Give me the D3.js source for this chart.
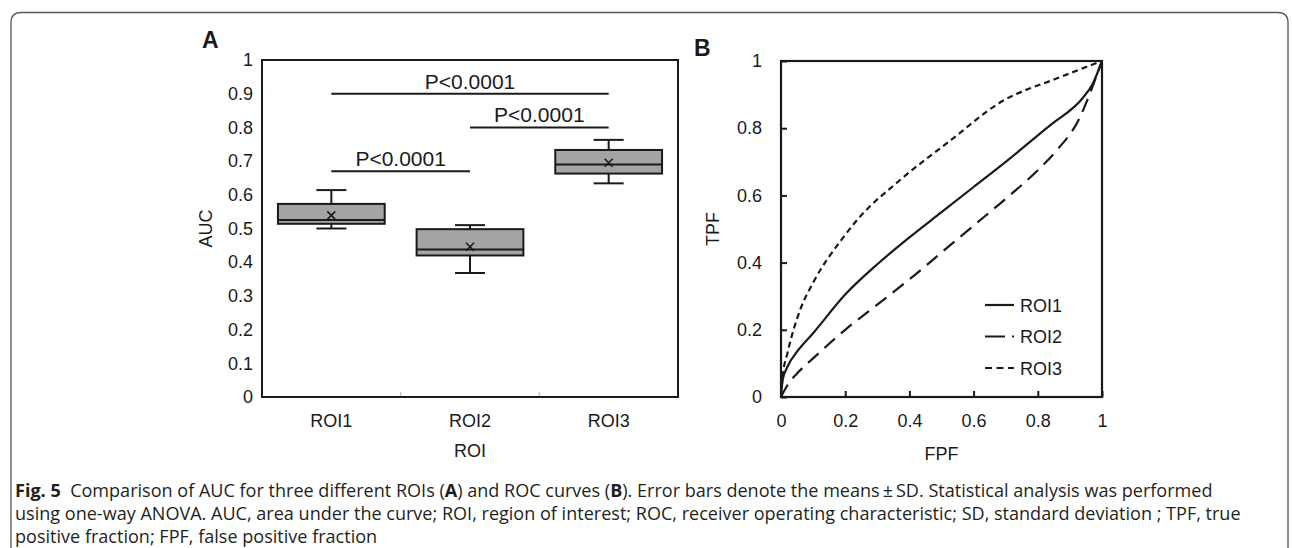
<!DOCTYPE html>
<html>
<head>
<meta charset="utf-8">
<script src="https://cdn.jsdelivr.net/npm/d3@7"></script>
<style>
  body { margin: 0; background: #fff; }
  text { font-family: "Liberation Sans", Arial, sans-serif; fill: #1a1a1a; }
  .cap { font-family: "Open Sans", "Noto Sans", sans-serif; fill: #231f20; }
</style>
</head>
<body>
<div id="graph"></div>
<script>
// panel A: AUC box plots
const categories = ["ROI1", "ROI2", "ROI3"];
const whiskerLow  = [0.500, 0.368, 0.634];
const q1          = [0.514, 0.420, 0.663];
const medians     = [0.525, 0.438, 0.690];
const q3          = [0.573, 0.498, 0.733];
const whiskerHigh = [0.614, 0.510, 0.763];
const means       = [0.539, 0.446, 0.695];
const aucTicks = [0, 0.1, 0.2, 0.3, 0.4, 0.5, 0.6, 0.7, 0.8, 0.9, 1];

// significance bars: pair of categories, height, label
const sigFrom  = [0, 1, 0];
const sigTo    = [2, 2, 1];
const sigLevel = [0.9, 0.8, 0.67];
const sigLabel = ["P<0.0001", "P<0.0001", "P<0.0001"];

// panel B: ROC curves
const rocNames = ["ROI1", "ROI2", "ROI3"];
const fpfROI1 = [0, 0.005, 0.02, 0.05, 0.1, 0.2, 0.3, 0.4, 0.5, 0.6, 0.7, 0.84, 0.94, 0.97, 1];
const tpfROI1 = [0, 0.05, 0.09, 0.135, 0.19, 0.305, 0.395, 0.475, 0.55, 0.625, 0.7, 0.81, 0.89, 0.93, 1];
const fpfROI2 = [0, 0.02, 0.05, 0.1, 0.2, 0.3, 0.4, 0.5, 0.6, 0.7, 0.8, 0.86, 0.93, 0.965, 1];
const tpfROI2 = [0, 0.035, 0.07, 0.115, 0.2, 0.275, 0.35, 0.43, 0.51, 0.59, 0.675, 0.735, 0.83, 0.91, 1];
const fpfROI3 = [0, 0.005, 0.02, 0.06, 0.1, 0.19, 0.24, 0.37, 0.53, 0.68, 0.87, 1];
const tpfROI3 = [0, 0.06, 0.13, 0.26, 0.34, 0.47, 0.53, 0.645, 0.765, 0.875, 0.952, 1];
const rocTicks = [0, 0.2, 0.4, 0.6, 0.8, 1];

const W = 1292, H = 548;
const ink = "#1a1a1a";

let svg = d3.select("#graph").append("svg")
  .attr("width", W).attr("height", H)
  .style("display", "block");

// outer figure frame (rounded at top, open at bottom)
let r = 10, fl = 11, fr = 1288, ft = 12.5;
svg.append("path")
  .attr("d", `M${fl},${H} V${ft + r} Q${fl},${ft} ${fl + r},${ft} H${fr - r} Q${fr},${ft} ${fr},${ft + r} V${H}`)
  .attr("fill", "none").attr("stroke", "#555").attr("stroke-width", 1.3);

// ---------- panel A ----------
let ax = { l: 262, r: 678, t: 60, b: 397 };
let x = d3.scaleBand().domain(categories).range([ax.l, ax.r]);
let y = d3.scaleLinear().domain([0, 1]).range([ax.b, ax.t]);

let gA = svg.append("g");

// y tick labels (no tick marks)
let yAxis = d3.axisLeft(y).tickValues(aucTicks).tickSize(0).tickPadding(9).tickFormat(d3.format("~g"));
gA.append("g").attr("transform", `translate(${ax.l},0)`).call(yAxis)
  .call(g => g.select(".domain").remove())
  .selectAll("text").attr("font-size", 18).attr("font-family", "Liberation Sans").attr("fill", ink);

// x category labels + faint separators
let xAxis = d3.axisBottom(x).tickSize(0).tickPadding(17);
gA.append("g").attr("transform", `translate(0,${ax.b})`).call(xAxis)
  .call(g => g.select(".domain").remove())
  .selectAll("text").attr("font-size", 18).attr("font-family", "Liberation Sans").attr("fill", ink);

gA.selectAll(".sep").data(categories.slice(1)).enter().append("line")
  .attr("x1", d => x(d)).attr("x2", d => x(d))
  .attr("y1", ax.b).attr("y2", ax.b - 5)
  .attr("stroke", "#c8c8c8").attr("stroke-width", 1.5);

// frame
gA.append("rect").attr("x", ax.l).attr("y", ax.t)
  .attr("width", ax.r - ax.l).attr("height", ax.b - ax.t)
  .attr("fill", "none").attr("stroke", ink).attr("stroke-width", 2);

let boxW = x.bandwidth() * 0.77, capW = 30;
let boxes = gA.selectAll(".box").data(categories).enter().append("g")
  .attr("transform", d => `translate(${x(d) + x.bandwidth() / 2},0)`);

boxes.append("line")
  .attr("y1", (d, i) => y(whiskerHigh[i])).attr("y2", (d, i) => y(q3[i]))
  .attr("stroke", ink).attr("stroke-width", 2);
boxes.append("line")
  .attr("y1", (d, i) => y(whiskerLow[i])).attr("y2", (d, i) => y(q1[i]))
  .attr("stroke", ink).attr("stroke-width", 2);
boxes.append("line").attr("x1", -capW / 2).attr("x2", capW / 2)
  .attr("y1", (d, i) => y(whiskerHigh[i])).attr("y2", (d, i) => y(whiskerHigh[i]))
  .attr("stroke", ink).attr("stroke-width", 2);
boxes.append("line").attr("x1", -capW / 2).attr("x2", capW / 2)
  .attr("y1", (d, i) => y(whiskerLow[i])).attr("y2", (d, i) => y(whiskerLow[i]))
  .attr("stroke", ink).attr("stroke-width", 2);
boxes.append("rect").attr("x", -boxW / 2).attr("width", boxW)
  .attr("y", (d, i) => y(q3[i])).attr("height", (d, i) => y(q1[i]) - y(q3[i]))
  .attr("fill", "#a6a4a3").attr("stroke", ink).attr("stroke-width", 2);
boxes.append("line").attr("x1", -boxW / 2).attr("x2", boxW / 2)
  .attr("y1", (d, i) => y(medians[i])).attr("y2", (d, i) => y(medians[i]))
  .attr("stroke", ink).attr("stroke-width", 2);
boxes.append("path")
  .attr("d", (d, i) => { let c = y(means[i]), s = 4; return `M${-s},${c - s}L${s},${c + s}M${-s},${c + s}L${s},${c - s}`; })
  .attr("stroke", ink).attr("stroke-width", 1.6);

// significance bars
let cx = i => x(categories[i]) + x.bandwidth() / 2;
sigLevel.forEach((lv, i) => {
  gA.append("line")
    .attr("x1", cx(sigFrom[i])).attr("x2", cx(sigTo[i]))
    .attr("y1", y(lv)).attr("y2", y(lv))
    .attr("stroke", ink).attr("stroke-width", 2);
  gA.append("text")
    .attr("x", (cx(sigFrom[i]) + cx(sigTo[i])) / 2).attr("y", y(lv) - 5)
    .attr("text-anchor", "middle").attr("font-size", 21)
    .text(sigLabel[i]);
});

gA.append("text").attr("transform", `translate(${ax.l - 50},${(ax.t + ax.b) / 2}) rotate(-90)`)
  .attr("text-anchor", "middle").attr("font-size", 18).text("AUC");
gA.append("text").attr("x", (ax.l + ax.r) / 2).attr("y", 457)
  .attr("text-anchor", "middle").attr("font-size", 18).text("ROI");
gA.append("text").attr("x", 202).attr("y", 48)
  .attr("font-size", 23).attr("font-weight", "bold").text("A");

// ---------- panel B ----------
let bx = { l: 781, r: 1102, t: 61, b: 397 };
let xr = d3.scaleLinear().domain([0, 1]).range([bx.l, bx.r]);
let yr = d3.scaleLinear().domain([0, 1]).range([bx.b, bx.t]);
let gB = svg.append("g");

gB.append("g").attr("transform", `translate(${bx.l},0)`)
  .call(d3.axisRight(yr).tickValues(rocTicks).tickSize(6).tickFormat(d3.format("~g")))
  .call(g => g.select(".domain").remove())
  .call(g => g.selectAll("line").attr("stroke", ink).attr("stroke-width", 2))
  .selectAll("text").attr("x", -19).attr("text-anchor", "end")
  .attr("font-size", 18).attr("font-family", "Liberation Sans").attr("fill", ink);

gB.append("g").attr("transform", `translate(0,${bx.b})`)
  .call(d3.axisTop(xr).tickValues(rocTicks).tickSize(6).tickFormat(d3.format("~g")))
  .call(g => g.select(".domain").remove())
  .call(g => g.selectAll("line").attr("stroke", ink).attr("stroke-width", 2))
  .selectAll("text").attr("y", 30).attr("dy", 0)
  .attr("font-size", 18).attr("font-family", "Liberation Sans").attr("fill", ink);

gB.append("rect").attr("x", bx.l).attr("y", bx.t)
  .attr("width", bx.r - bx.l).attr("height", bx.b - bx.t)
  .attr("fill", "none").attr("stroke", ink).attr("stroke-width", 2.2);

let rocSeries = [
  { name: rocNames[0], fpf: fpfROI1, tpf: tpfROI1, dash: null, legendDash: null },
  { name: rocNames[1], fpf: fpfROI2, tpf: tpfROI2, dash: "14,8", legendDash: "20,7" },
  { name: rocNames[2], fpf: fpfROI3, tpf: tpfROI3, dash: "6,4", legendDash: "7,4.5" }
];

let line = d3.line().curve(d3.curveMonotoneX)
  .x(d => xr(d[0])).y(d => yr(d[1]));

gB.selectAll(".roc").data(rocSeries).enter().append("path")
  .attr("d", s => line(d3.zip(s.fpf, s.tpf)))
  .attr("fill", "none").attr("stroke", ink).attr("stroke-width", 2.2)
  .attr("stroke-dasharray", s => s.dash);

// legend
let leg = gB.selectAll(".leg").data(rocSeries).enter().append("g")
  .attr("transform", (s, i) => `translate(985,${305 + i * 31.5})`);
leg.append("line").attr("x1", 0).attr("x2", 29)
  .attr("stroke", ink).attr("stroke-width", 2.2)
  .attr("stroke-dasharray", s => s.legendDash);
leg.append("text").attr("x", 35).attr("y", 6.5)
  .attr("font-size", 18).text(s => s.name);

gB.append("text").attr("transform", `translate(${bx.l - 62},${(bx.t + bx.b) / 2}) rotate(-90)`)
  .attr("text-anchor", "middle").attr("font-size", 18).text("TPF");
gB.append("text").attr("x", (bx.l + bx.r) / 2).attr("y", 460)
  .attr("text-anchor", "middle").attr("font-size", 18).text("FPF");
gB.append("text").attr("x", 694).attr("y", 56)
  .attr("font-size", 23).attr("font-weight", "bold").text("B");

// ---------- caption ----------
let capLines = [
  [["Fig. 5", true], ["  Comparison of AUC for three different ROIs (", false], ["A", true], [") and ROC curves (", false], ["B", true], ["). Error bars denote the means\u2009\u00b1\u2009SD. Statistical analysis was performed", false]],
  [["using one-way ANOVA. AUC, area under the curve; ROI, region of interest; ROC, receiver operating characteristic; SD, standard deviation ; TPF, true", false]],
  [["positive fraction; FPF, false positive fraction", false]]
];
let cap = svg.append("g");
let capTexts = capLines.map((parts, i) => {
  let t = cap.append("text").attr("class", "cap").attr("x", 15).attr("y", 497 + i * 23)
    .attr("font-size", 16).attr("xml:space", "preserve");
  parts.forEach(p => {
    t.append("tspan").attr("font-weight", p[1] ? "bold" : null).text(p[0]);
  });
  return t;
});
// size the caption so the long second line fills the frame like the original
let w2 = capTexts[1].node().getComputedTextLength();
let capSize = 16 * 1226 / w2;
capTexts.forEach(t => t.attr("font-size", capSize));
</script>
</body>
</html>
